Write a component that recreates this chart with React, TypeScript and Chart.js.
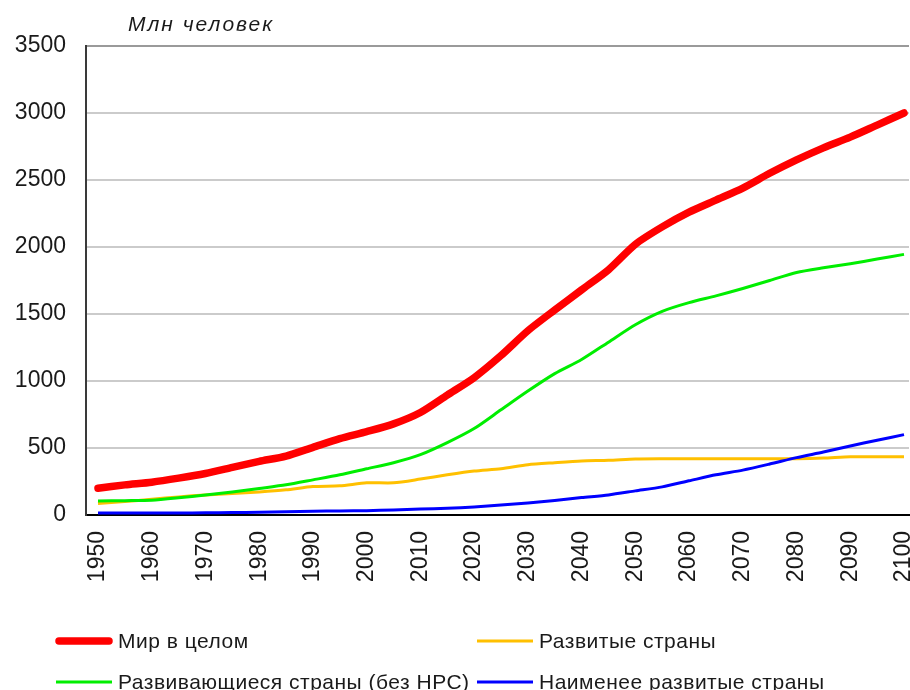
import React, { useEffect, useRef } from 'react';
import { Chart, registerables } from 'chart.js';

Chart.register(...registerables);

// ---- data ----
const years = [
  1950, 1955, 1960, 1965, 1970, 1975, 1980, 1985, 1990, 1995, 2000,
  2005, 2010, 2015, 2020, 2025, 2030, 2035, 2040, 2045, 2050,
  2055, 2060, 2065, 2070, 2075, 2080, 2085, 2090, 2095, 2100,
];

const world = [
  200, 225, 245, 275, 310, 355, 400, 440, 505, 570, 622,
  680, 765, 895, 1025, 1190, 1375, 1530, 1680, 1830, 2020,
  2150, 2260, 2350, 2440, 2550, 2650, 2740, 2820, 2910, 3000,
];

const developed = [
  85, 100, 118, 135, 150, 160, 172, 188, 212, 218, 240,
  240, 268, 300, 328, 345, 375, 390, 403, 408, 418,
  420, 420, 420, 420, 420, 420, 425, 435, 435, 435,
];

const developing = [
  105, 107, 110, 128, 150, 172, 198, 225, 262, 300, 345,
  390, 450, 540, 645, 785, 925, 1055, 1160, 1290, 1420,
  1520, 1585, 1635, 1690, 1750, 1810, 1845, 1875, 1910, 1945,
];

const leastDeveloped = [
  15, 15, 15, 15, 16, 18, 20, 25, 28, 30, 32,
  38, 44, 50, 60, 75, 90, 108, 130, 150, 180,
  210, 255, 300, 335, 380, 428, 470, 515, 558, 600,
];

const xTickLabels = [
  1950, 1960, 1970, 1980, 1990, 2000, 2010, 2020,
  2030, 2040, 2050, 2060, 2070, 2080, 2090, 2100,
];

const yMax = 3500;
const yStep = 500;

const seriesNames = [
  'Мир в целом',
  'Развитые страны',
  'Развивающиеся страны (без НРС)',
  'Наименее развитые страны',
];
const unitLabel = 'Млн человек';

const FONT = "'Liberation Sans', Arial, sans-serif";

const toPoints = (vals: number[]) => years.map((y, i) => ({ x: y, y: vals[i] }));

const titlePlugin = {
  id: 'unitTitle',
  afterDraw(chart: any) {
    const ctx = chart.ctx;
    ctx.save();
    ctx.font = `italic 21px ${FONT}`;
    try { (ctx as any).letterSpacing = '2px'; } catch (e) {}
    ctx.fillStyle = '#1a1a1a';
    ctx.textAlign = 'left';
    ctx.textBaseline = 'alphabetic';
    ctx.fillText(unitLabel, 128, 31);
    ctx.restore();
  },
};

const legendPlugin = {
  id: 'gridLegend',
  afterDraw(chart: any) {
    const ctx = chart.ctx;
    const slots = [
      { x: 56, y: 641 },
      { x: 477, y: 641 },
      { x: 56, y: 682 },
      { x: 477, y: 682 },
    ];
    ctx.save();
    ctx.font = `21px ${FONT}`;
    try { (ctx as any).letterSpacing = '0.5px'; } catch (e) {}
    ctx.fillStyle = '#1a1a1a';
    ctx.textAlign = 'left';
    ctx.textBaseline = 'middle';
    seriesNames.forEach((name, i) => {
      const ds = chart.data.datasets.find((d: any) => d.label === name);
      if (!ds) return;
      const s = slots[i];
      ctx.beginPath();
      ctx.strokeStyle = ds.borderColor;
      ctx.lineWidth = ds.borderWidth;
      ctx.lineCap = ds.borderWidth > 4 ? 'round' : 'butt';
      const inset = ds.borderWidth > 4 ? 3 : 0;
      ctx.moveTo(s.x + inset, s.y);
      ctx.lineTo(s.x + 56 - inset, s.y);
      ctx.stroke();
      ctx.fillStyle = '#1a1a1a';
      ctx.fillText(name, s.x + 62, s.y + 1);
    });
    ctx.restore();
  },
};

export default function App() {
  const canvasRef = useRef<HTMLCanvasElement | null>(null);

  useEffect(() => {
    if (!canvasRef.current) return;
    const lineBase = {
      pointRadius: 0,
      pointHoverRadius: 0,
      fill: false,
      tension: 0.25,
    };
    const chart = new Chart(canvasRef.current, {
      type: 'line',
      data: {
        datasets: [
          { ...lineBase, label: seriesNames[0], data: toPoints(world), borderColor: '#ff0000', borderWidth: 7.5, borderCapStyle: 'round' as const },
          { ...lineBase, label: seriesNames[3], data: toPoints(leastDeveloped), borderColor: '#0000ff', borderWidth: 3 },
          { ...lineBase, label: seriesNames[2], data: toPoints(developing), borderColor: '#00ee00', borderWidth: 3 },
          { ...lineBase, label: seriesNames[1], data: toPoints(developed), borderColor: '#ffc000', borderWidth: 3 },
        ],
      },
      options: {
        responsive: false,
        animation: false,
        devicePixelRatio: 1,
        layout: { padding: { top: 46, left: 0, right: 1, bottom: 0 } },
        plugins: {
          legend: { display: false },
          title: { display: false },
          tooltip: { enabled: false },
        },
        scales: {
          x: {
            type: 'linear',
            min: 1947.77,
            max: 2100.93,
            grid: { display: false, drawTicks: false },
            border: { display: true, color: '#000000', width: 2 },
            ticks: {
              autoSkip: false,
              maxRotation: 90,
              minRotation: 90,
              padding: 16,
              color: '#1a1a1a',
              font: { family: FONT, size: 23 },
              callback: (v: any) => String(v),
            },
            afterBuildTicks: (scale: any) => {
              scale.ticks = xTickLabels.map((v) => ({ value: v }));
            },
            afterFit: (scale: any) => {
              scale.height = 175;
              scale.paddingLeft = 0;
              scale.paddingRight = 0;
            },
          },
          y: {
            type: 'linear',
            min: 0,
            max: yMax,
            grid: {
              drawTicks: false,
              lineWidth: 2,
              color: (c: any) => (c.tick && c.tick.value === yMax ? '#9a9a9a' : '#cbcbcb'),
            },
            border: { display: true, color: '#3a3a3a', width: 2 },
            ticks: {
              stepSize: yStep,
              padding: 20,
              color: '#1a1a1a',
              font: { family: FONT, size: 23 },
              callback: (v: any) => String(v),
            },
            afterFit: (scale: any) => {
              scale.width = 86;
              scale.paddingTop = 0;
              scale.paddingBottom = 0;
            },
          },
        },
      },
      plugins: [titlePlugin, legendPlugin],
    });
    return () => chart.destroy();
  }, []);

  return (
    <div style={{ position: 'fixed', left: 0, top: 0, width: 910, height: 690, background: '#ffffff' }}>
      <canvas ref={canvasRef} width={910} height={690} style={{ display: 'block' }} />
    </div>
  );
}
